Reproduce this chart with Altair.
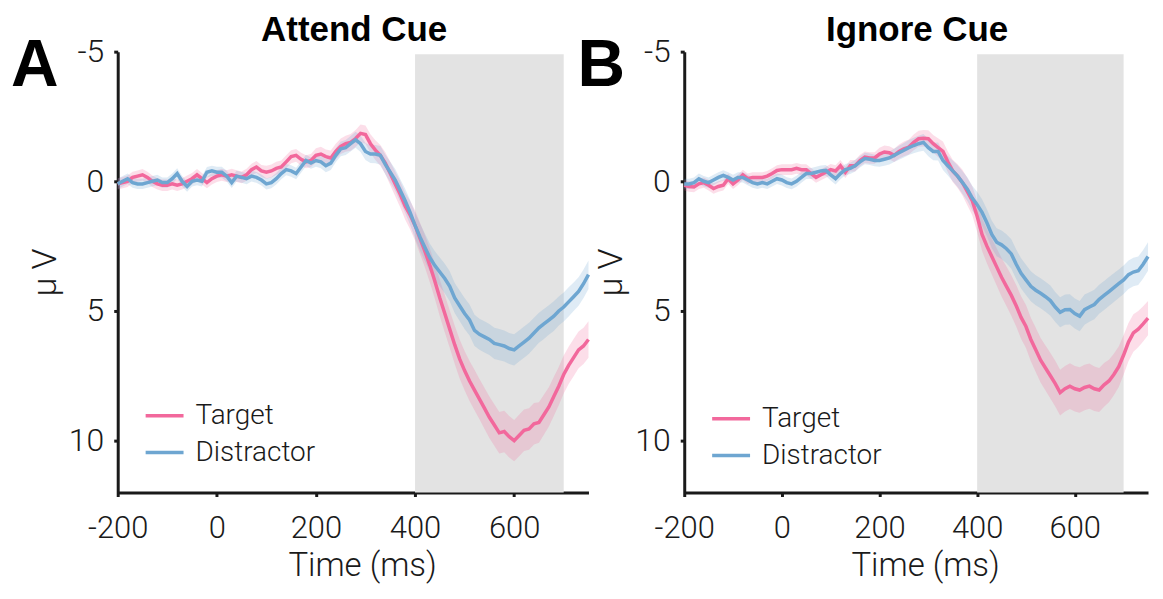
import altair as alt
import pandas as pd

# ---------------- data ----------------
times = list(range(-200, 751, 10))

attend_target = [
    0.10, 0.05, 0.00, -0.15, -0.20, -0.25, -0.15, 0.00, 0.10, 0.15,
    0.15, 0.10, 0.15, 0.10, 0.00, -0.10, -0.25, -0.10, 0.05, -0.10,
    -0.20, -0.25, -0.20, -0.25, -0.20, -0.15, -0.25, -0.45, -0.55, -0.40,
    -0.35, -0.40, -0.50, -0.55, -0.75, -0.95, -1.00, -0.85, -0.75, -0.80,
    -1.00, -1.05, -0.95, -0.90, -1.15, -1.35, -1.45, -1.50, -1.65, -1.85,
    -1.80, -1.45, -1.20, -1.00, -0.70, -0.30, 0.10, 0.50, 0.95, 1.30,
    1.70, 2.20, 2.70, 3.25, 3.85, 4.50, 5.10, 5.70, 6.30, 6.85,
    7.30, 7.70, 8.05, 8.40, 8.75, 9.10, 9.40, 9.70, 9.65, 9.85,
    10.00, 9.80, 9.60, 9.55, 9.35, 9.30, 9.00, 8.70, 8.30, 7.90,
    7.45, 7.10, 6.80, 6.50, 6.35, 6.10,
]
attend_target_se = [
    0.22, 0.22, 0.22, 0.22, 0.22, 0.22, 0.22, 0.22, 0.22, 0.22,
    0.22, 0.22, 0.22, 0.22, 0.22, 0.22, 0.22, 0.22, 0.22, 0.22,
    0.23, 0.23, 0.23, 0.23, 0.23, 0.23, 0.23, 0.23, 0.23, 0.23,
    0.25, 0.25, 0.25, 0.25, 0.25, 0.25, 0.25, 0.25, 0.25, 0.25,
    0.27, 0.28, 0.28, 0.29, 0.30, 0.30, 0.31, 0.32, 0.33, 0.34,
    0.35, 0.36, 0.38, 0.40, 0.42, 0.45, 0.48, 0.50, 0.52, 0.55,
    0.58, 0.60, 0.62, 0.65, 0.68, 0.70, 0.72, 0.72, 0.74, 0.75,
    0.76, 0.77, 0.78, 0.78, 0.79, 0.80, 0.80, 0.80, 0.80, 0.80,
    0.80, 0.80, 0.80, 0.80, 0.80, 0.78, 0.77, 0.76, 0.75, 0.74,
    0.73, 0.72, 0.72, 0.71, 0.70, 0.70,
]
attend_distractor = [
    0.10, 0.00, -0.10, 0.05, 0.10, 0.10, 0.05, 0.00, -0.05, 0.05,
    0.05, -0.10, -0.30, 0.00, 0.20, 0.00, -0.05, 0.00, -0.35, -0.40,
    -0.35, -0.35, -0.20, 0.05, -0.20, -0.15, -0.10, -0.20, -0.15, -0.05,
    0.10, 0.05, -0.10, -0.30, -0.45, -0.40, -0.30, -0.55, -0.80, -0.70,
    -0.80, -0.75, -0.60, -0.70, -1.00, -1.25, -1.30, -1.45, -1.60, -1.45,
    -1.15, -1.05, -1.05, -1.00, -0.65, -0.35, -0.05, 0.35, 0.75, 1.20,
    1.70, 2.15, 2.55, 2.95, 3.25, 3.50, 3.75, 4.05, 4.50, 4.80,
    5.10, 5.35, 5.75, 5.90, 6.00, 6.10, 6.25, 6.30, 6.35, 6.45,
    6.50, 6.35, 6.20, 6.05, 5.85, 5.65, 5.50, 5.35, 5.20, 5.00,
    4.85, 4.65, 4.45, 4.25, 3.95, 3.60,
]
attend_distractor_se = [
    0.20, 0.20, 0.20, 0.20, 0.20, 0.20, 0.20, 0.20, 0.20, 0.20,
    0.20, 0.20, 0.20, 0.20, 0.20, 0.20, 0.20, 0.20, 0.20, 0.20,
    0.21, 0.21, 0.21, 0.21, 0.21, 0.21, 0.21, 0.21, 0.21, 0.21,
    0.22, 0.22, 0.22, 0.22, 0.22, 0.22, 0.22, 0.22, 0.22, 0.22,
    0.24, 0.25, 0.25, 0.26, 0.27, 0.28, 0.29, 0.30, 0.31, 0.32,
    0.33, 0.34, 0.35, 0.36, 0.38, 0.40, 0.42, 0.44, 0.46, 0.48,
    0.50, 0.52, 0.53, 0.54, 0.55, 0.56, 0.57, 0.58, 0.58, 0.59,
    0.60, 0.60, 0.60, 0.60, 0.60, 0.60, 0.60, 0.60, 0.60, 0.60,
    0.60, 0.60, 0.60, 0.60, 0.59, 0.58, 0.58, 0.57, 0.57, 0.56,
    0.56, 0.56, 0.55, 0.55, 0.55, 0.55,
]
ignore_target = [
    0.15, 0.20, 0.22, 0.10, 0.05, 0.15, 0.28, 0.20, 0.15, -0.10,
    0.10, -0.05, -0.25, -0.10, -0.15, -0.15, -0.15, -0.20, -0.30, -0.42,
    -0.45, -0.45, -0.45, -0.50, -0.45, -0.45, -0.30, -0.15, -0.25, -0.35,
    -0.45, -0.40, -0.60, -0.35, -0.60, -0.60, -0.80, -0.93, -0.90, -0.90,
    -1.05, -1.13, -1.10, -1.00, -1.15, -1.25, -1.32, -1.50, -1.64, -1.66,
    -1.64, -1.45, -1.30, -1.15, -0.75, -0.40, -0.20, 0.05, 0.40, 0.75,
    1.35, 2.05, 2.50, 2.90, 3.30, 3.70, 4.05, 4.40, 4.80, 5.25,
    5.60, 6.10, 6.50, 6.90, 7.20, 7.50, 7.80, 8.15, 8.00, 7.90,
    8.00, 8.05, 7.95, 7.90, 8.00, 8.05, 7.85, 7.70, 7.45, 7.15,
    6.70, 6.20, 5.85, 5.70, 5.50, 5.28,
]
ignore_target_se = [
    0.20, 0.20, 0.20, 0.20, 0.20, 0.20, 0.20, 0.20, 0.20, 0.20,
    0.20, 0.20, 0.20, 0.20, 0.20, 0.20, 0.20, 0.20, 0.20, 0.20,
    0.21, 0.21, 0.21, 0.21, 0.21, 0.21, 0.21, 0.21, 0.21, 0.21,
    0.22, 0.22, 0.22, 0.22, 0.22, 0.22, 0.22, 0.22, 0.22, 0.22,
    0.24, 0.25, 0.25, 0.26, 0.27, 0.28, 0.29, 0.30, 0.31, 0.32,
    0.33, 0.34, 0.36, 0.38, 0.40, 0.43, 0.46, 0.50, 0.53, 0.56,
    0.60, 0.63, 0.66, 0.69, 0.72, 0.74, 0.76, 0.78, 0.80, 0.82,
    0.83, 0.84, 0.85, 0.86, 0.87, 0.88, 0.88, 0.88, 0.88, 0.88,
    0.88, 0.88, 0.88, 0.87, 0.86, 0.85, 0.84, 0.82, 0.80, 0.78,
    0.76, 0.74, 0.72, 0.70, 0.68, 0.66,
]
ignore_distractor = [
    0.10, 0.10, 0.05, -0.10, 0.00, 0.05, -0.05, -0.15, -0.23, -0.15,
    -0.05, -0.15, -0.15, -0.05, 0.05, 0.10, 0.05, 0.10, 0.00, -0.10,
    -0.05, 0.05, 0.10, 0.00, -0.15, -0.30, -0.30, -0.35, -0.40, -0.42,
    -0.25, -0.10, -0.30, -0.45, -0.50, -0.60, -0.75, -0.88, -0.85, -0.80,
    -0.80, -0.85, -0.90, -1.00, -1.10, -1.20, -1.30, -1.38, -1.45, -1.50,
    -1.30, -1.15, -1.15, -0.80, -0.60, -0.40, -0.20, 0.05, 0.30, 0.65,
    0.90, 1.20, 1.60, 2.05, 2.35, 2.45, 2.60, 2.80, 3.20, 3.55,
    3.80, 4.05, 4.20, 4.32, 4.45, 4.60, 4.85, 5.05, 4.95, 4.94,
    5.10, 5.20, 4.95, 4.85, 4.75, 4.55, 4.40, 4.25, 4.10, 3.95,
    3.80, 3.60, 3.50, 3.45, 3.20, 2.90,
]
ignore_distractor_se = [
    0.20, 0.20, 0.20, 0.20, 0.20, 0.20, 0.20, 0.20, 0.20, 0.20,
    0.20, 0.20, 0.20, 0.20, 0.20, 0.20, 0.20, 0.20, 0.20, 0.20,
    0.21, 0.21, 0.21, 0.21, 0.21, 0.21, 0.21, 0.21, 0.21, 0.21,
    0.22, 0.22, 0.22, 0.22, 0.22, 0.22, 0.22, 0.22, 0.22, 0.22,
    0.24, 0.25, 0.25, 0.26, 0.27, 0.28, 0.29, 0.30, 0.31, 0.32,
    0.33, 0.34, 0.35, 0.36, 0.38, 0.40, 0.42, 0.44, 0.46, 0.48,
    0.50, 0.51, 0.52, 0.53, 0.54, 0.55, 0.56, 0.57, 0.57, 0.58,
    0.58, 0.58, 0.58, 0.58, 0.58, 0.58, 0.58, 0.58, 0.58, 0.58,
    0.58, 0.58, 0.58, 0.57, 0.57, 0.56, 0.56, 0.56, 0.55, 0.55,
    0.55, 0.55, 0.55, 0.55, 0.55, 0.55,
]

conditions = ["Target", "Distractor"]
panel_titles = ["Attend Cue", "Ignore Cue"]
panel_letters = ["A", "B"]
x_ticks = [-200, 0, 200, 400, 600]
y_ticks = [-5, 0, 5, 10]
window_start = [400]
window_end = [700]

# ---------------- style ----------------
PINK = "#F2689C"
BLUE = "#6EA6D1"
GRAY = "#E3E3E3"
INK = "#1A1A1A"
LIGHT_FONT = "Roboto"
BOLD_FONT = "Liberation Sans"
PLOT_H = 442

xs = alt.Scale(domain=[-200, 750], nice=False, zero=False)
ys = alt.Scale(domain=[-5, 12], reverse=True, nice=False, zero=False)


def frame(mean, se, cond):
    return pd.DataFrame({
        "t": times,
        "v": mean,
        "lo": [m - s for m, s in zip(mean, se)],
        "hi": [m + s for m, s in zip(mean, se)],
        "cond": cond,
    })


def panel(width, title, letter, tgt, tgt_se, dis, dis_se, lx, ly):
    def x_enc(field):
        return alt.X(f"{field}:Q", scale=xs,
                     axis=alt.Axis(values=x_ticks, title="Time (ms)", labelFlush=False,
                                   titleX=width / 2 + 9,
                                   labelExpr="datum.value + ''"))

    def y_enc(field):
        return alt.Y(f"{field}:Q", scale=ys,
                     axis=alt.Axis(values=y_ticks, title="μ V", labelFlush=False,
                                   labelExpr="datum.value + ''"))

    df_t = frame(tgt, tgt_se, "Target")
    df_d = frame(dis, dis_se, "Distractor")
    df = pd.concat([df_t, df_d], ignore_index=True)
    shade_df = pd.DataFrame({"x1": window_start, "x2": window_end,
                             "y1": [-4.9], "y2": [12]})
    shade = alt.Chart(shade_df).mark_rect(color=GRAY).encode(
        x=x_enc("x1"), x2="x2", y=y_enc("y1"), y2="y2")
    band_t = alt.Chart(df_t).mark_area(color=PINK, opacity=0.22).encode(
        x=x_enc("t"), y=y_enc("lo"), y2="hi")
    band_d = alt.Chart(df_d).mark_area(color=BLUE, opacity=0.22).encode(
        x=x_enc("t"), y=y_enc("lo"), y2="hi")
    lines = alt.Chart(df).mark_line(strokeWidth=3.5).encode(
        x=x_enc("t"), y=y_enc("v"),
        color=alt.Color("cond:N", scale=alt.Scale(domain=conditions, range=[PINK, BLUE]),
                        sort=conditions,
                        legend=alt.Legend(orient="none", legendX=lx, legendY=ly, title=None,
                                          symbolType="stroke", symbolSize=1444,
                                          symbolStrokeWidth=3.5, labelFontSize=28,
                                          labelFont=LIGHT_FONT, labelFontWeight=300,
                                          labelColor=INK, labelOffset=10, rowPadding=2,
                                          padding=0)))
    lab = alt.Chart(pd.DataFrame({"l": [letter]})).mark_text(
        font=BOLD_FONT, fontSize=66, fontWeight="bold", align="left",
        baseline="alphabetic", color="black").encode(
        text="l:N", x=alt.value(-107), y=alt.value(34))
    ttl = alt.Chart(pd.DataFrame({"l": [title]})).mark_text(
        font=BOLD_FONT, fontSize=35, fontWeight="bold", align="center",
        baseline="alphabetic", color="black").encode(
        text="l:N", x=alt.value(width / 2 + 1), y=alt.value(-11))
    return alt.layer(shade, band_t, band_d, lines, lab, ttl).properties(
        width=width, height=PLOT_H)


pa = panel(472, panel_titles[0], panel_letters[0], attend_target, attend_target_se,
           attend_distractor, attend_distractor_se, 26, 344)
pb = panel(465, panel_titles[1], panel_letters[1], ignore_target, ignore_target_se,
           ignore_distractor, ignore_distractor_se, 26, 347)

chart = alt.hconcat(pa, pb, spacing=96, bounds="flush").resolve_scale(
    color="independent").resolve_legend(color="independent").properties(
    padding={"left": 3, "top": 4, "right": 0, "bottom": 1}
).configure_view(stroke=None).configure_axis(
    grid=False, domainWidth=3, domainColor=INK, tickColor=INK, tickWidth=3, tickSize=4,
    labelFont=LIGHT_FONT, labelFontWeight=300, labelFontSize=32, labelColor=INK,
    titleFont=LIGHT_FONT, titleFontWeight=300, titleColor=INK,
).configure_axisX(labelPadding=17, labelFontSize=31, titleFontSize=33, titlePadding=6
).configure_axisY(labelPadding=10, titleFontSize=34, titlePadding=6)

chart.save("out.html", embed_options={"renderer": "svg", "actions": False})
